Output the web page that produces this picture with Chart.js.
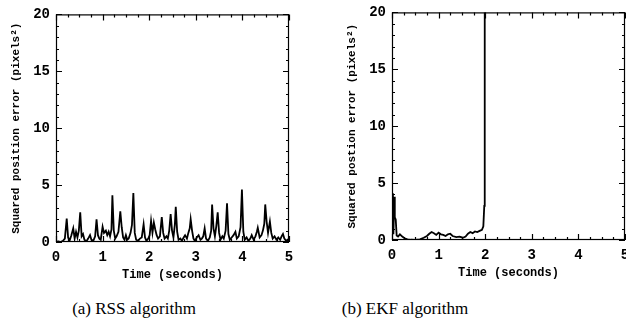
<!DOCTYPE html>
<html>
<head>
<meta charset="utf-8">
<script src="https://cdn.jsdelivr.net/npm/chart.js@4.4.1/dist/chart.umd.min.js"></script>
<style>
  html, body { margin: 0; padding: 0; background: #fff; overflow: hidden; }
  body { width: 626px; height: 333px; position: relative; }
  .box { position: absolute; width: 305px; height: 290px; }
  .cap { position: absolute; top: 299px; font-family: "Liberation Serif", serif; font-size: 17px; color: #000; transform: translateX(-50%); white-space: nowrap; }
</style>
</head>
<body>
<div class="box" style="left:0;top:0"><canvas id="rssChart"></canvas></div>
<div class="box" style="left:336px;top:-2px"><canvas id="ekfChart"></canvas></div>
<div class="cap" style="left:134px">(a) RSS algorithm</div>
<div class="cap" style="left:405px">(b) EKF algorithm</div>

<script>
// ---------- data ----------
const rssTime = [
  0.00, 0.05, 0.10, 0.15, 0.19, 0.23, 0.26, 0.29, 0.33, 0.37, 0.40, 0.43, 0.46, 0.49, 0.52, 0.55,
  0.58, 0.61, 0.65, 0.69, 0.73, 0.76, 0.80, 0.84, 0.87, 0.90, 0.93, 0.96, 1.00, 1.03, 1.07, 1.10,
  1.13, 1.16, 1.19, 1.21, 1.24, 1.27, 1.30, 1.34, 1.38, 1.41, 1.44, 1.47, 1.50, 1.53, 1.56, 1.60,
  1.63, 1.66, 1.69, 1.72, 1.76, 1.80, 1.84, 1.88, 1.91, 1.94, 1.98, 2.01, 2.04, 2.07, 2.10, 2.13,
  2.16, 2.19, 2.23, 2.27, 2.30, 2.33, 2.37, 2.40, 2.43, 2.46, 2.49, 2.52, 2.55, 2.57, 2.60, 2.63,
  2.67, 2.70, 2.74, 2.77, 2.81, 2.84, 2.87, 2.89, 2.92, 2.95, 2.98, 3.02, 3.06, 3.10, 3.13, 3.16,
  3.19, 3.22, 3.26, 3.30, 3.33, 3.35, 3.38, 3.41, 3.44, 3.47, 3.50, 3.53, 3.57, 3.60, 3.64, 3.67,
  3.70, 3.73, 3.77, 3.81, 3.85, 3.88, 3.92, 3.96, 3.99, 4.02, 4.05, 4.09, 4.13, 4.17, 4.20, 4.24,
  4.28, 4.31, 4.33, 4.37, 4.41, 4.44, 4.47, 4.49, 4.52, 4.55, 4.59, 4.62, 4.65, 4.69, 4.73, 4.77,
  4.81, 4.84, 4.87, 4.90, 4.94, 4.97, 5.00
];
const rssError = [
  0.0, 0.05, 0.0, 0.1, 0.3, 2.05, 0.4, 0.1, 0.6, 1.2, 0.3, 0.9, 0.4, 1.0, 2.6, 0.5,
  0.7, 0.2, 0.05, 0.3, 0.6, 0.2, 0.1, 0.5, 2.0, 0.6, 0.3, 0.2, 1.35, 0.8, 1.0, 0.6,
  0.9, 0.5, 1.1, 4.1, 1.0, 0.3, 0.5, 0.9, 2.7, 1.3, 0.4, 0.2, 0.6, 0.2, 0.3, 0.8,
  1.5, 4.3, 0.8, 0.2, 0.1, 0.3, 0.4, 1.55, 0.4, 0.1, 0.3, 0.6, 1.85, 0.8, 1.7, 1.1,
  0.6, 0.3, 0.5, 2.2, 0.8, 0.3, 0.5, 0.3, 1.0, 2.45, 1.0, 0.4, 1.5, 3.1, 0.9, 0.2,
  0.3, 0.1, 0.4, 0.6, 0.3, 0.8, 1.2, 2.0, 1.0, 0.3, 0.1, 0.4, 0.6, 0.2, 0.3, 0.5,
  1.2, 0.3, 0.1, 0.4, 1.0, 3.3, 1.2, 0.5, 1.4, 2.6, 0.8, 0.2, 0.5, 0.3, 1.0, 3.4,
  0.7, 0.2, 0.4, 0.6, 0.9, 0.3, 0.5, 1.3, 4.6, 0.9, 0.2, 0.4, 0.1, 0.3, 0.6, 0.2,
  0.5, 0.9, 1.25, 0.4, 0.6, 1.0, 1.6, 3.3, 1.8, 0.8, 1.8, 0.8, 0.3, 0.5, 0.2, 0.4,
  0.2, 0.5, 0.7, 0.3, 0.1, 0.2, 0.1
];

const ekfTime = [
  0.00, 0.02, 0.03, 0.05, 0.06, 0.08, 0.10, 0.13, 0.17, 0.22, 0.27, 0.33, 0.40, 0.50, 0.60, 0.68,
  0.75, 0.80, 0.85, 0.90, 0.95, 1.00, 1.05, 1.10, 1.15, 1.20, 1.25, 1.30, 1.38, 1.45, 1.52, 1.58,
  1.63, 1.68, 1.73, 1.78, 1.83, 1.88, 1.93, 1.96, 1.98, 1.99
];
const ekfError = [
  1.5, 4.1, 0.5, 3.8, 2.0, 1.8, 0.4, 0.3, 0.5, 0.3, 0.15, 0.05, 0.02, 0.0, 0.05, 0.2,
  0.35, 0.55, 0.7, 0.6, 0.45, 0.65, 0.5, 0.45, 0.35, 0.5, 0.55, 0.35, 0.25, 0.3, 0.2, 0.3,
  0.55, 0.7, 0.6, 0.75, 0.7, 0.8, 0.9, 1.2, 3.0, 60
];

const xTicks = [0, 1, 2, 3, 4, 5];
const yTicks = [0, 5, 10, 15, 20];

const tickFont = { family: "Liberation Mono", size: 14, weight: "bold" };
const titleFont = { family: "Liberation Mono", size: 12, weight: "bold" };

// frame + inward ticks on all four sides
const framePlugin = {
  id: "frame",
  afterDatasetsDraw(chart) {
    const { ctx, chartArea: a, scales } = chart;
    const xs = scales.x, ys = scales.y;
    ctx.save();
    ctx.strokeStyle = "#000";
    ctx.lineWidth = 1.2;
    ctx.strokeRect(a.left + 0.5, a.top + 0.5, a.right - a.left - 1, a.bottom - a.top - 1);
    ctx.beginPath();
    for (let v = 0; v <= 5.001; v += 0.25) {
      const px = Math.round(xs.getPixelForValue(v)) + 0.5;
      const len = Math.abs(v - Math.round(v)) < 1e-6 ? 6 : 3;
      ctx.moveTo(px, a.bottom); ctx.lineTo(px, a.bottom - len);
      ctx.moveTo(px, a.top); ctx.lineTo(px, a.top + len);
    }
    for (let v = 0; v <= 20; v += 1) {
      const py = Math.round(ys.getPixelForValue(v)) + 0.5;
      const len = v % 5 === 0 ? 6 : 3;
      ctx.moveTo(a.left, py); ctx.lineTo(a.left + len, py);
      ctx.moveTo(a.right, py); ctx.lineTo(a.right - len, py);
    }
    ctx.stroke();
    ctx.restore();
  }
};

function makeChart(id, times, errors, yTitle) {
  const points = times.map((t, i) => ({ x: t, y: errors[i] }));
  return new Chart(document.getElementById(id), {
    type: "line",
    data: {
      datasets: [{
        data: points,
        borderColor: "#000",
        borderWidth: 1.8,
        pointRadius: 0,
        tension: 0,
        fill: false
      }]
    },
    options: {
      responsive: true,
      maintainAspectRatio: false,
      animation: false,
      layout: { padding: { left: 0, top: 13, right: 16, bottom: 0 } },
      plugins: { legend: { display: false }, tooltip: { enabled: false } },
      scales: {
        x: {
          type: "linear",
          min: 0, max: 5,
          afterBuildTicks: s => { s.ticks = xTicks.map(v => ({ value: v })); },
          afterFit: s => { s.height = 48; },
          grid: { display: false, drawTicks: false },
          border: { display: false },
          ticks: { color: "#000", font: tickFont, padding: 7, maxRotation: 0 },
          title: { display: true, text: "Time (seconds)", color: "#000", font: titleFont, padding: { top: 0, bottom: 8 } }
        },
        y: {
          min: 0, max: 20,
          afterBuildTicks: s => { s.ticks = yTicks.map(v => ({ value: v })); },
          afterFit: s => { s.width = 56; },
          grid: { display: false, drawTicks: false },
          border: { display: false },
          ticks: { color: "#000", font: tickFont, padding: 6 },
          title: { display: true, text: yTitle, color: "#000", font: { family: "Liberation Mono", size: 11, weight: "bold" }, padding: { top: 10, bottom: 0 } }
        }
      }
    },
    plugins: [framePlugin]
  });
}

makeChart("rssChart", rssTime, rssError, "Squared position error (pixels²)");
makeChart("ekfChart", ekfTime, ekfError, "Squared postion error (pixels²)");
</script>
</body>
</html>
